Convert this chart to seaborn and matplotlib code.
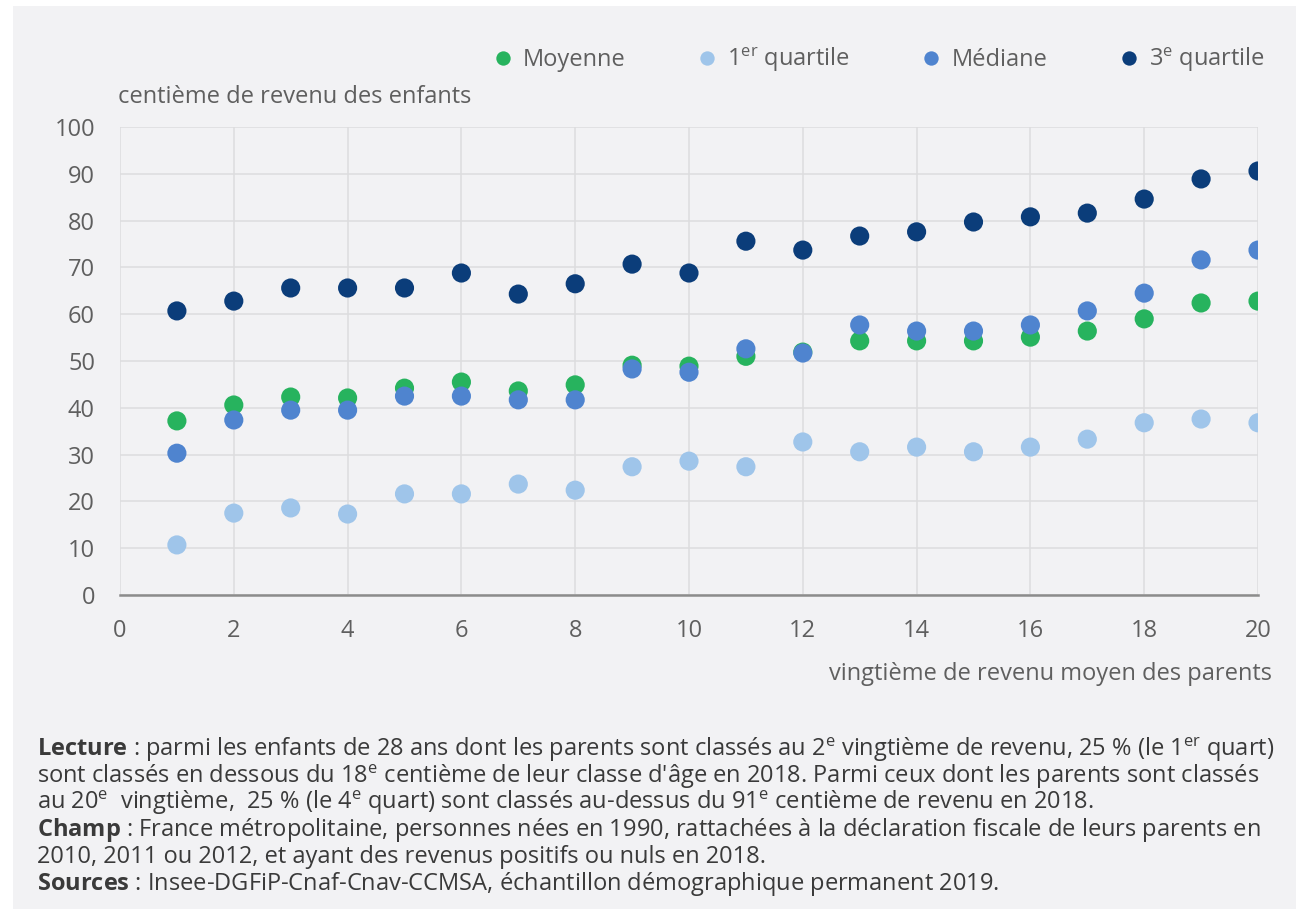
import numpy as np
import pandas as pd
import matplotlib
matplotlib.use("Agg")
import matplotlib.pyplot as plt
import seaborn as sns
from matplotlib.patches import Rectangle

# ---- data ----
vingtiemes = list(range(1, 21))
moyenne = [37.2, 40.6, 42.3, 42.1, 44.2, 45.5, 43.6, 44.9, 49.1, 48.9,
           51.0, 51.9, 54.3, 54.3, 54.3, 55.1, 56.4, 59.0, 62.4, 62.8]
q1 = [10.7, 17.5, 18.6, 17.3, 21.6, 21.6, 23.7, 22.4, 27.4, 28.6,
      27.4, 32.7, 30.6, 31.6, 30.6, 31.6, 33.3, 36.8, 37.6, 36.8]
mediane = [30.3, 37.4, 39.5, 39.5, 42.5, 42.5, 41.7, 41.7, 48.3, 47.6,
           52.6, 51.7, 57.7, 56.4, 56.4, 57.7, 60.7, 64.5, 71.6, 73.7]
q3 = [60.7, 62.8, 65.6, 65.6, 65.6, 68.8, 64.3, 66.5, 70.7, 68.8,
      75.6, 73.7, 76.7, 77.6, 79.7, 80.8, 81.6, 84.6, 88.9, 90.6]
series_names = ["Moyenne", "1$^{\\mathrm{er}}$ quartile", "Médiane", "3$^{\\mathrm{e}}$ quartile"]
colors = ["#27b35e", "#9fc5ea", "#4f84cf", "#0b3d7a"]
x_ticks = list(range(0, 21, 2))
y_ticks = list(range(0, 101, 10))

df = pd.DataFrame({
    "x": vingtiemes * 4,
    "y": moyenne + q1 + mediane + q3,
    "serie": sum([[n] * 20 for n in series_names], []),
})

sns.set_theme(style="white")
plt.rcParams["font.family"] = ["Open Sans", "DejaVu Sans"]
plt.rcParams["mathtext.fontset"] = "custom"
plt.rcParams["mathtext.rm"] = "Open Sans"
plt.rcParams["mathtext.it"] = "Open Sans:italic"
plt.rcParams["mathtext.bf"] = "Open Sans:bold"

BG = "#f2f2f4"
TXT = "#5f5f5f"
FS = 17
fig = plt.figure(figsize=(12.96, 9.09), dpi=100, facecolor="white")
fig.patches.append(Rectangle((13 / 1296, 0), 1, 1 - 6 / 909, transform=fig.transFigure,
                             facecolor=BG, edgecolor="none", zorder=-10))

ax = fig.add_axes([120 / 1296, 1 - 595 / 909, (1258 - 120) / 1296, (595 - 127) / 909])
ax.set_facecolor(BG)

sns.scatterplot(data=df, x="x", y="y", hue="serie", hue_order=series_names,
                palette=colors, s=190, linewidth=0, ax=ax, zorder=3)

ax.set_xlim(0, 20)
ax.set_ylim(0, 100)
ax.set_xticks(x_ticks)
ax.set_yticks(y_ticks)
ax.grid(True, color="#dcdcde", linewidth=1.1, zorder=0)
ax.set_axisbelow(True)
for sp in ["top", "right", "left"]:
    ax.spines[sp].set_visible(False)
ax.spines["bottom"].set_color("#8c8c8c")
ax.spines["bottom"].set_linewidth(1.8)
ax.spines["bottom"].set_zorder(4)
ax.tick_params(axis="both", length=0, labelsize=FS, labelcolor=TXT)
ax.tick_params(axis="y", pad=18)
ax.tick_params(axis="x", pad=17)
ax.set_xlabel("")
ax.set_ylabel("")

fig.text(118 / 1296, 1 - 97 / 909, "centième de revenu des enfants", fontsize=FS,
         color=TXT, ha="left", va="center")
fig.text(1272 / 1296, 1 - 674 / 909, "vingtième de revenu moyen des parents", fontsize=FS,
         color=TXT, ha="right", va="center")

handles, labels = ax.get_legend_handles_labels()
if ax.legend_:
    ax.legend_.remove()
leg = fig.legend(handles, labels, loc="center right",
                 bbox_to_anchor=(1286 / 1296, 1 - 60 / 909), ncol=4, frameon=False,
                 fontsize=FS, handlelength=1.0, handletextpad=0.35, columnspacing=2.95,
                 markerscale=0.75)
for t in leg.get_texts():
    t.set_color(TXT)

foot = [
    "$\\mathbf{Lecture}$ : parmi les enfants de 28 ans dont les parents sont classés au 2$^{\\mathrm{e}}$ vingtième de revenu, 25 % (le 1$^{\\mathrm{er}}$ quart)",
    "sont classés en dessous du 18$^{\\mathrm{e}}$ centième de leur classe d'âge en 2018. Parmi ceux dont les parents sont classés",
    "au 20$^{\\mathrm{e}}$  vingtième,  25 % (le 4$^{\\mathrm{e}}$ quart) sont classés au-dessus du 91$^{\\mathrm{e}}$ centième de revenu en 2018.",
    "$\\mathbf{Champ}$ : France métropolitaine, personnes nées en 1990, rattachées à la déclaration fiscale de leurs parents en",
    "2010, 2011 ou 2012, et ayant des revenus positifs ou nuls en 2018.",
    "$\\mathbf{Sources}$ : Insee-DGFiP-Cnaf-Cnav-CCMSA, échantillon démographique permanent 2019.",
]
ys = [750, 777, 803, 830, 857, 884]
for line, yy in zip(foot, ys):
    fig.text(37 / 1296, 1 - yy / 909, line, fontsize=17, color="#3a3a3a",
             ha="left", va="center")

fig.savefig("out.png", dpi=100, facecolor="white")
